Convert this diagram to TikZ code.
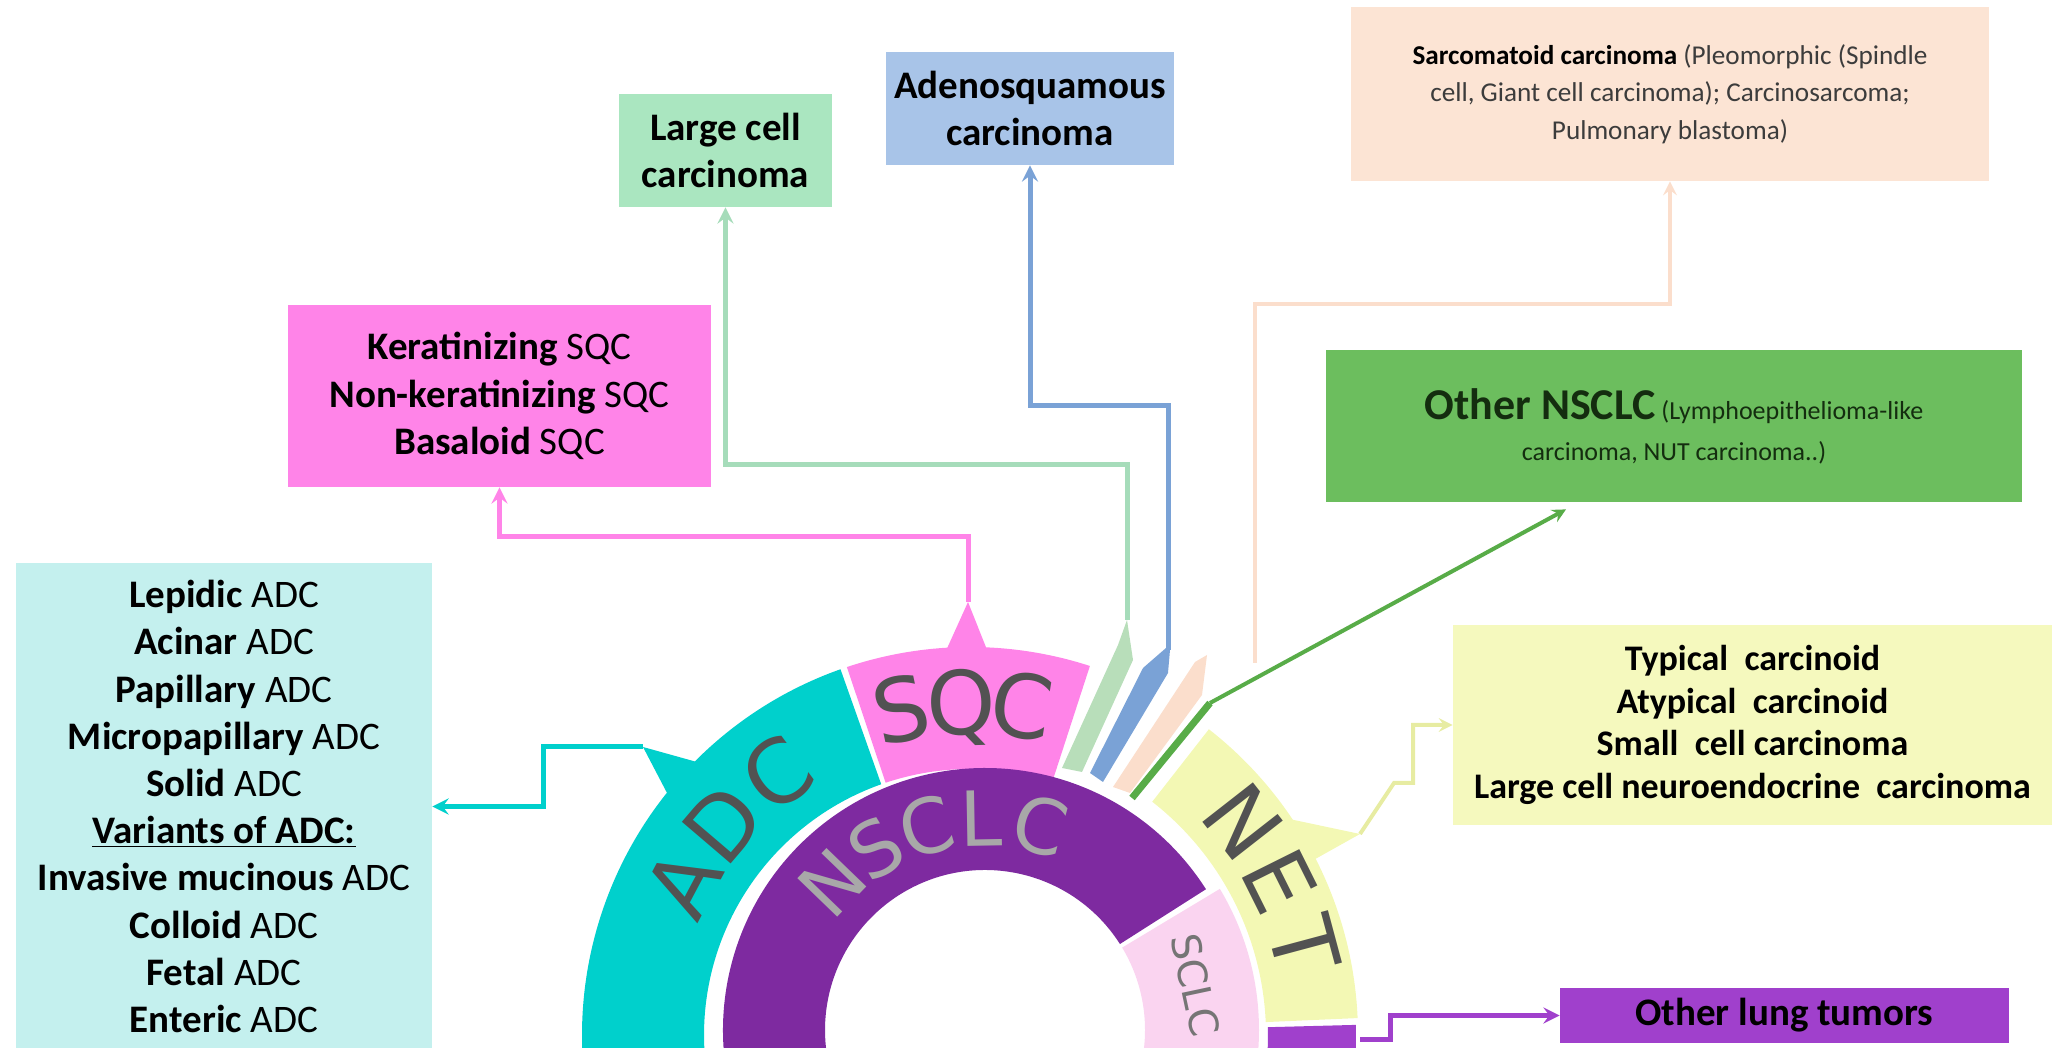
\documentclass[tikz,border=0pt]{standalone}
\usepackage{fontspec}
\setmainfont{Carlito}
\newfontfamily\ringfont{DejaVu Sans}
\usetikzlibrary{arrows, calc, positioning}
\definecolor{adcteal}{RGB}{0,208,204}
\definecolor{adcpale}{RGB}{196,240,238}
\definecolor{sqcpink}{RGB}{255,132,232}
\definecolor{lccslice}{RGB}{184,222,186}
\definecolor{lccpale}{RGB}{170,230,192}
\definecolor{adsqblue}{RGB}{122,162,214}
\definecolor{adsqpale}{RGB}{168,196,232}
\definecolor{sarcpeach}{RGB}{251,222,204}
\definecolor{sarcpale}{RGB}{252,228,212}
\definecolor{sarctext}{RGB}{60,60,60}
\definecolor{onsclcgreen}{RGB}{88,172,72}
\definecolor{onsclcpale}{RGB}{108,190,94}
\definecolor{onsclctext}{RGB}{20,45,15}
\definecolor{netyellow}{RGB}{243,248,180}
\definecolor{netpale}{RGB}{245,249,190}
\definecolor{nsclcpurple}{RGB}{126,42,160}
\definecolor{sclcpink}{RGB}{250,212,240}
\definecolor{oltpurple}{RGB}{160,64,204}
\definecolor{ringgray}{RGB}{82,82,82}
\definecolor{nsclcgray}{RGB}{168,168,168}
\tikzstyle{tumorbox} = [rectangle, inner sep=0pt, align=center, text=black]
\tikzstyle{bigtext} = [font=\fontsize{19.5}{23.6}\selectfont]
\tikzstyle{line} = [draw, ->, >=stealth, line width=2.5pt]
\tikzstyle{ringlbl} = [inner sep=0pt, text height=32pt, text depth=0pt, text=ringgray, font=\ringfont\fontsize{44}{44}\selectfont]
\tikzstyle{nsclclbl} = [inner sep=0pt, text height=28pt, text depth=0pt, text=nsclcgray, font=\ringfont\fontsize{38}{38}\selectfont]
\tikzstyle{sclclbl} = [inner sep=0pt, text=ringgray!80, font=\ringfont\fontsize{20}{20}\selectfont]
\begin{document}
\begin{tikzpicture}[x=0.5pt, y=0.5pt]
  \useasboundingbox (0,0) rectangle (2052,1048);
  \clip (0,0) rectangle (2052,1048);

  % boxes
  \node (adcbox) [tumorbox, bigtext, fill=adcpale, minimum width=208pt, minimum height=243.5pt] at (224,241.5)
    {\textbf{Lepidic} ADC\\ \textbf{Acinar} ADC\\ \textbf{Papillary} ADC\\ \textbf{Micropapillary} ADC\\ \textbf{Solid} ADC\\
     \underline{\textbf{Variants of ADC:}}\\ \textbf{Invasive mucinous} ADC\\ \textbf{Colloid} ADC\\ \textbf{Fetal} ADC\\ \textbf{Enteric} ADC};
  \node (sqcbox) [tumorbox, bigtext, fill=sqcpink, minimum width=211.5pt, minimum height=91pt] at (499.5,652)
    {\textbf{Keratinizing} SQC\\ \textbf{Non-keratinizing} SQC\\ \textbf{Basaloid} SQC};
  \node (lccbox) [tumorbox, bigtext, fill=lccpale, minimum width=106.5pt, minimum height=56.5pt] at (725.5,897.5)
    {\textbf{Large cell}\\ \textbf{carcinoma}};
  \node (adsqbox) [tumorbox, bigtext, fill=adsqpale, minimum width=144pt, minimum height=56.5pt] at (1030,939.5)
    {\textbf{Adenosquamous}\\ \textbf{carcinoma}};
  \node (sarcbox) [tumorbox, text=sarctext, fill=sarcpale, minimum width=319pt, minimum height=87pt, font=\fontsize{13.6}{18.75}\selectfont] at (1670,954)
    {\textbf{\color{black}Sarcomatoid carcinoma} (Pleomorphic (Spindle\\ cell, Giant cell carcinoma); Carcinosarcoma;\\ Pulmonary blastoma)};
  \node (onsclcbox) [tumorbox, text=onsclctext, fill=onsclcpale, minimum width=348pt, minimum height=76pt, font=\fontsize{13}{20.5}\selectfont] at (1674,622)
    {{\fontsize{22}{20.5}\selectfont\bfseries Other NSCLC} (Lymphoepithelioma-like\\ carcinoma, NUT carcinoma..)};
  \node (netbox) [tumorbox, fill=netpale, minimum width=299.5pt, minimum height=100pt, font=\fontsize{18}{21.2}\selectfont\bfseries] at (1752.5,323)
    {Typical\ \ carcinoid\\ Atypical\ \ carcinoid\\ Small\ \ cell carcinoma\\ Large cell neuroendocrine\ \ carcinoma};
  \node (oltbox) [tumorbox, bigtext, fill=oltpurple, minimum width=224.5pt, minimum height=27.5pt] at (1784.5,32.5)
    {\textbf{Other lung tumors}};

  % connector ends on the ring
  \coordinate (adctab) at (643,301);
  \coordinate (sqctab) at (968,446);
  \coordinate (nettab) at (1360,214);
  \coordinate (oltstart) at (1360,8);
  \coordinate (lcctip) at (1127,428);
  \coordinate (adsqtip) at (1168,398);
  \coordinate (sarctip) at (1255,385);
  \coordinate (onsclcbase) at (1132,250);
  \coordinate (onsclcknee) at (1210,345);

  % outer ring
  \begin{scope}[shift={(970,13)}]
    \fill[adcteal] (109.5:266) arc[start angle=109.5, end angle=200, radius=266] -- (200:388) arc[start angle=200, end angle=109.5, radius=388] -- cycle;
    \fill[adcteal] (135:386) -- (adctab) -- (141.5:386) -- cycle;
    \fill[sqcpink] (72:266) arc[start angle=72, end angle=108.5, radius=266] -- (108.5:388) arc[start angle=108.5, end angle=72, radius=388] -- cycle;
    \fill[sqcpink] (87.5:386) -- (sqctab) -- (93.5:386) -- cycle;
    \fill[netyellow] (2.5:296) arc[start angle=2.5, end angle=52, radius=296] -- (52:388) arc[start angle=52, end angle=2.5, radius=388] -- cycle;
    \fill[netyellow] (27:386) -- (nettab) -- (34:386) -- cycle;
    \fill[oltpurple] (-15:298) arc[start angle=-15, end angle=1.5, radius=298] -- (1.5:386) arc[start angle=1.5, end angle=-15, radius=386] -- cycle;
    \foreach \ch/\ang in {A/152,D/139.5,C/126.5}
      \node[ringlbl, rotate=\ang-90] at (\ang:325) {\ch};
    \foreach \ch/\ang in {S/102,Q/91.5,C/81}
      \node[ringlbl, rotate=\ang-90] at (\ang:333) {\ch};
    \foreach \ch/\ang in {N/38,E/26.5,T/15}
      \node[ringlbl, rotate=\ang-90] at (\ang:346) {\ch};
  \end{scope}

  % inner ring
  \begin{scope}[shift={(985,18)}]
    \fill[nsclcpurple] (32.5:160) arc[start angle=32.5, end angle=215, radius=160] -- (215:262) arc[start angle=215, end angle=32.5, radius=262] -- cycle;
    \fill[sclcpink] (-40:160) arc[start angle=-40, end angle=31, radius=160] -- (31:274) arc[start angle=31, end angle=-40, radius=274] -- cycle;
    \foreach \ch/\ang in {N/136,S/121,C/106,L/91,C/75}
      \node[nsclclbl, rotate=\ang-90] at (\ang:212) {\ch};
    \node[sclclbl, rotate=-78] at (12:215) {SCLC};
  \end{scope}

  % thin slices
  \fill[lccslice] (1062,280) -- (1118,403) -- (lcctip) -- (1133,388) -- (1082,276) -- cycle;
  \fill[adsqblue] (1090,275) -- (1143,380) -- (1166,400) -- (1170,398) -- (1168,375) -- (1103,266) -- cycle;
  \fill[sarcpeach] (1113,261) -- (1195,386) -- (1207,393) -- (1202,353) -- (1130,255) -- cycle;

  % connectors
  \path [line, draw=adcteal] (adctab) -- ++(-100,0) |- (adcbox.east);
  \path [line, draw=sqcpink] (sqctab) -- ++(0,65) -| (sqcbox.south);
  \path [line, draw=lccpale!90!gray] (lcctip) -- ++(0,155) -| (lccbox.south);
  \path [line, draw=adsqblue] (adsqtip) -- ++(0,244) -| (adsqbox.south);
  \path [line, draw=sarcpeach, line width=2pt] (sarctip) -- ++(0,359) -| (sarcbox.south);
  \draw [onsclcgreen, line width=3.5pt] (onsclcbase) -- (onsclcknee);
  \path [line, draw=onsclcgreen, line width=2pt] (onsclcknee) -- ($(onsclcbox.south)+(-108,-7)$);
  \path [line, draw=netyellow!90!olive, line width=2pt] (nettab) -- ++(34,51) -- ++(19,0) |- (netbox.west);
  \path [line, draw=oltpurple] (oltstart) -- ++(30,0) |- (oltbox.west);
\end{tikzpicture}
\end{document}
